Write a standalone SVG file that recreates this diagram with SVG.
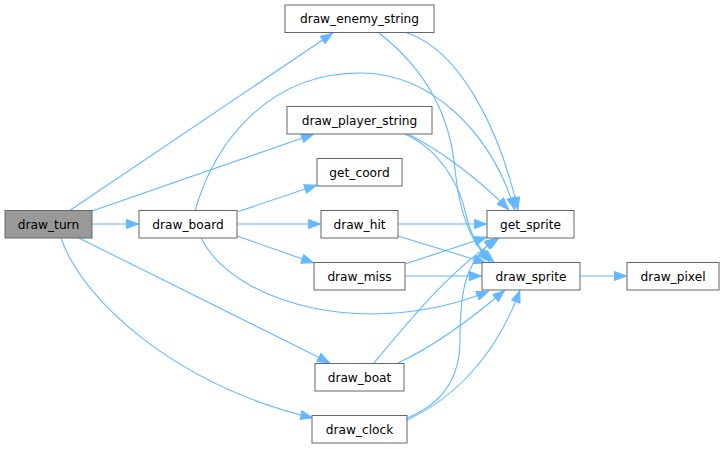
<svg xmlns="http://www.w3.org/2000/svg" width="725" height="449" viewBox="0 0 725 449">
<defs>
<style>
.node rect{fill:#ffffff;stroke:#666666;stroke-width:1}
#draw_turn rect{fill:#999999}
.node text{font-family:"DejaVu Sans","Liberation Sans",sans-serif;font-size:12.2px;fill:#000000;text-anchor:middle}
.edge path{fill:none;stroke:#63b8ff;stroke-width:1.1;marker-end:url(#arr)}
</style>
<marker id="arr" markerUnits="userSpaceOnUse" viewBox="0 0 13 10" markerWidth="13" markerHeight="10" refX="13" refY="5" orient="auto">
<path d="M0.5,0.5 L12.5,5 L0.5,9.5 z" fill="#63b8ff" stroke="#63b8ff" stroke-width="1"/>
</marker>
</defs>
<rect width="725" height="449" fill="#ffffff"/>
<g id="edges" class="edge">
<path d="M92,224 L139,224"/>
<path d="M69,211 L333,33"/>
<path d="M92,211 L314,134"/>
<path d="M79,238 L330,363"/>
<path d="M61,238 C82,300 175,385 313,418"/>
<path d="M237,212 L317,185"/>
<path d="M237,224 L321,224"/>
<path d="M237,236 L314,263"/>
<path d="M201,238 C235,305 370,340 489,291"/>
<path d="M195,211 C215,140 270,73 360,73 C430,73 490,130 515,210"/>
<path d="M407,33 C460,50 500,130 518,210"/>
<path d="M379,33 C420,65 450,110 455,170 C460,215 470,240 490,262"/>
<path d="M408,134 C440,150 480,180 509,210"/>
<path d="M405,134 C440,150 460,185 466,215 C472,240 480,250 494,262"/>
<path d="M398,224 L487,224"/>
<path d="M398,236 L486,263"/>
<path d="M405,264 L487,237"/>
<path d="M405,276 L482,276"/>
<path d="M374,363 C410,320 450,270 499,238"/>
<path d="M398,363 C430,348 470,320 505,290"/>
<path d="M407,418 C440,405 460,380 460,340 C460,290 465,260 497,238"/>
<path d="M407,420 C450,400 495,360 520,290"/>
<path d="M580,276 L627,276"/>
</g>
<g id="draw_turn" class="node"><rect x="5" y="210.5" width="87" height="27.5"/><text x="48.5" y="228.5">draw_turn</text></g>
<g id="draw_board" class="node"><rect x="139" y="210.5" width="98" height="27.5"/><text x="188" y="228.5">draw_board</text></g>
<g id="draw_enemy_string" class="node"><rect x="285" y="5" width="149" height="27.5"/><text x="359.5" y="23">draw_enemy_string</text></g>
<g id="draw_player_string" class="node"><rect x="287" y="106.5" width="145" height="27.5"/><text x="359.5" y="124.5">draw_player_string</text></g>
<g id="get_coord" class="node"><rect x="317" y="158.5" width="85" height="27.5"/><text x="359.5" y="176.5">get_coord</text></g>
<g id="draw_hit" class="node"><rect x="321" y="210.5" width="77" height="27.5"/><text x="359.5" y="228.5">draw_hit</text></g>
<g id="draw_miss" class="node"><rect x="314" y="262.5" width="91" height="27.5"/><text x="359.5" y="280.5">draw_miss</text></g>
<g id="draw_boat" class="node"><rect x="315" y="363.5" width="89" height="27.5"/><text x="359.5" y="381.5">draw_boat</text></g>
<g id="draw_clock" class="node"><rect x="312" y="415.5" width="95" height="27.5"/><text x="359.5" y="433.5">draw_clock</text></g>
<g id="get_sprite" class="node"><rect x="487" y="210.5" width="87" height="27.5"/><text x="530.5" y="228.5">get_sprite</text></g>
<g id="draw_sprite" class="node"><rect x="482" y="262.5" width="98" height="27.5"/><text x="531" y="280.5">draw_sprite</text></g>
<g id="draw_pixel" class="node"><rect x="627" y="262.5" width="92" height="27.5"/><text x="673" y="280.5">draw_pixel</text></g>
</svg>
